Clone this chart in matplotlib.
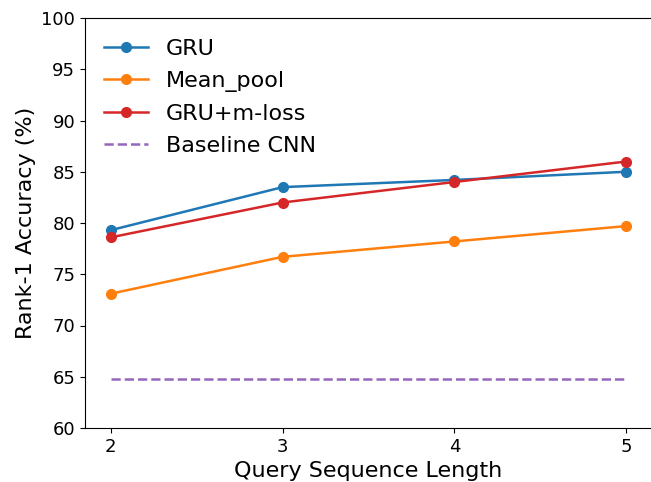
import matplotlib
matplotlib.use("Agg")
import matplotlib.pyplot as plt

lengths = [2, 3, 4, 5]
gru = [79.3, 83.5, 84.2, 85.0]
mean_pool = [73.1, 76.7, 78.2, 79.7]
gru_mloss = [78.6, 82.0, 84.0, 86.0]
baseline_cnn = [64.8, 64.8, 64.8, 64.8]

fig = plt.figure(figsize=(6.51, 4.82), dpi=100)
ax = fig.add_axes([85/651, 54/482, 567/651, 410/482])

ax.plot(lengths, gru, marker='o', markersize=7, lw=1.8, color='#1f77b4', label='GRU')
ax.plot(lengths, mean_pool, marker='o', markersize=7, lw=1.8, color='#ff7f0e', label='Mean_pool')
ax.plot(lengths, gru_mloss, marker='o', markersize=7, lw=1.8, color='#d62728', label='GRU+m-loss')
ax.plot(lengths, baseline_cnn, ls='--', lw=1.8, color='#9467bd', label='Baseline CNN')

ax.set_ylim(60, 100)
ax.set_yticks(range(60, 101, 5))
ax.set_xticks(lengths)
ax.set_xlim(1.85, 5.15)
ax.tick_params(labelsize=13)
ax.set_xlabel('Query Sequence Length', fontsize=16)
ax.set_ylabel('Rank-1 Accuracy (%)', fontsize=16)
ax.legend(loc='upper left', fontsize=16, frameon=False, borderaxespad=0.45,
          labelspacing=0.545, bbox_to_anchor=(0, 0.996))

fig.savefig('out.png', dpi=100)
